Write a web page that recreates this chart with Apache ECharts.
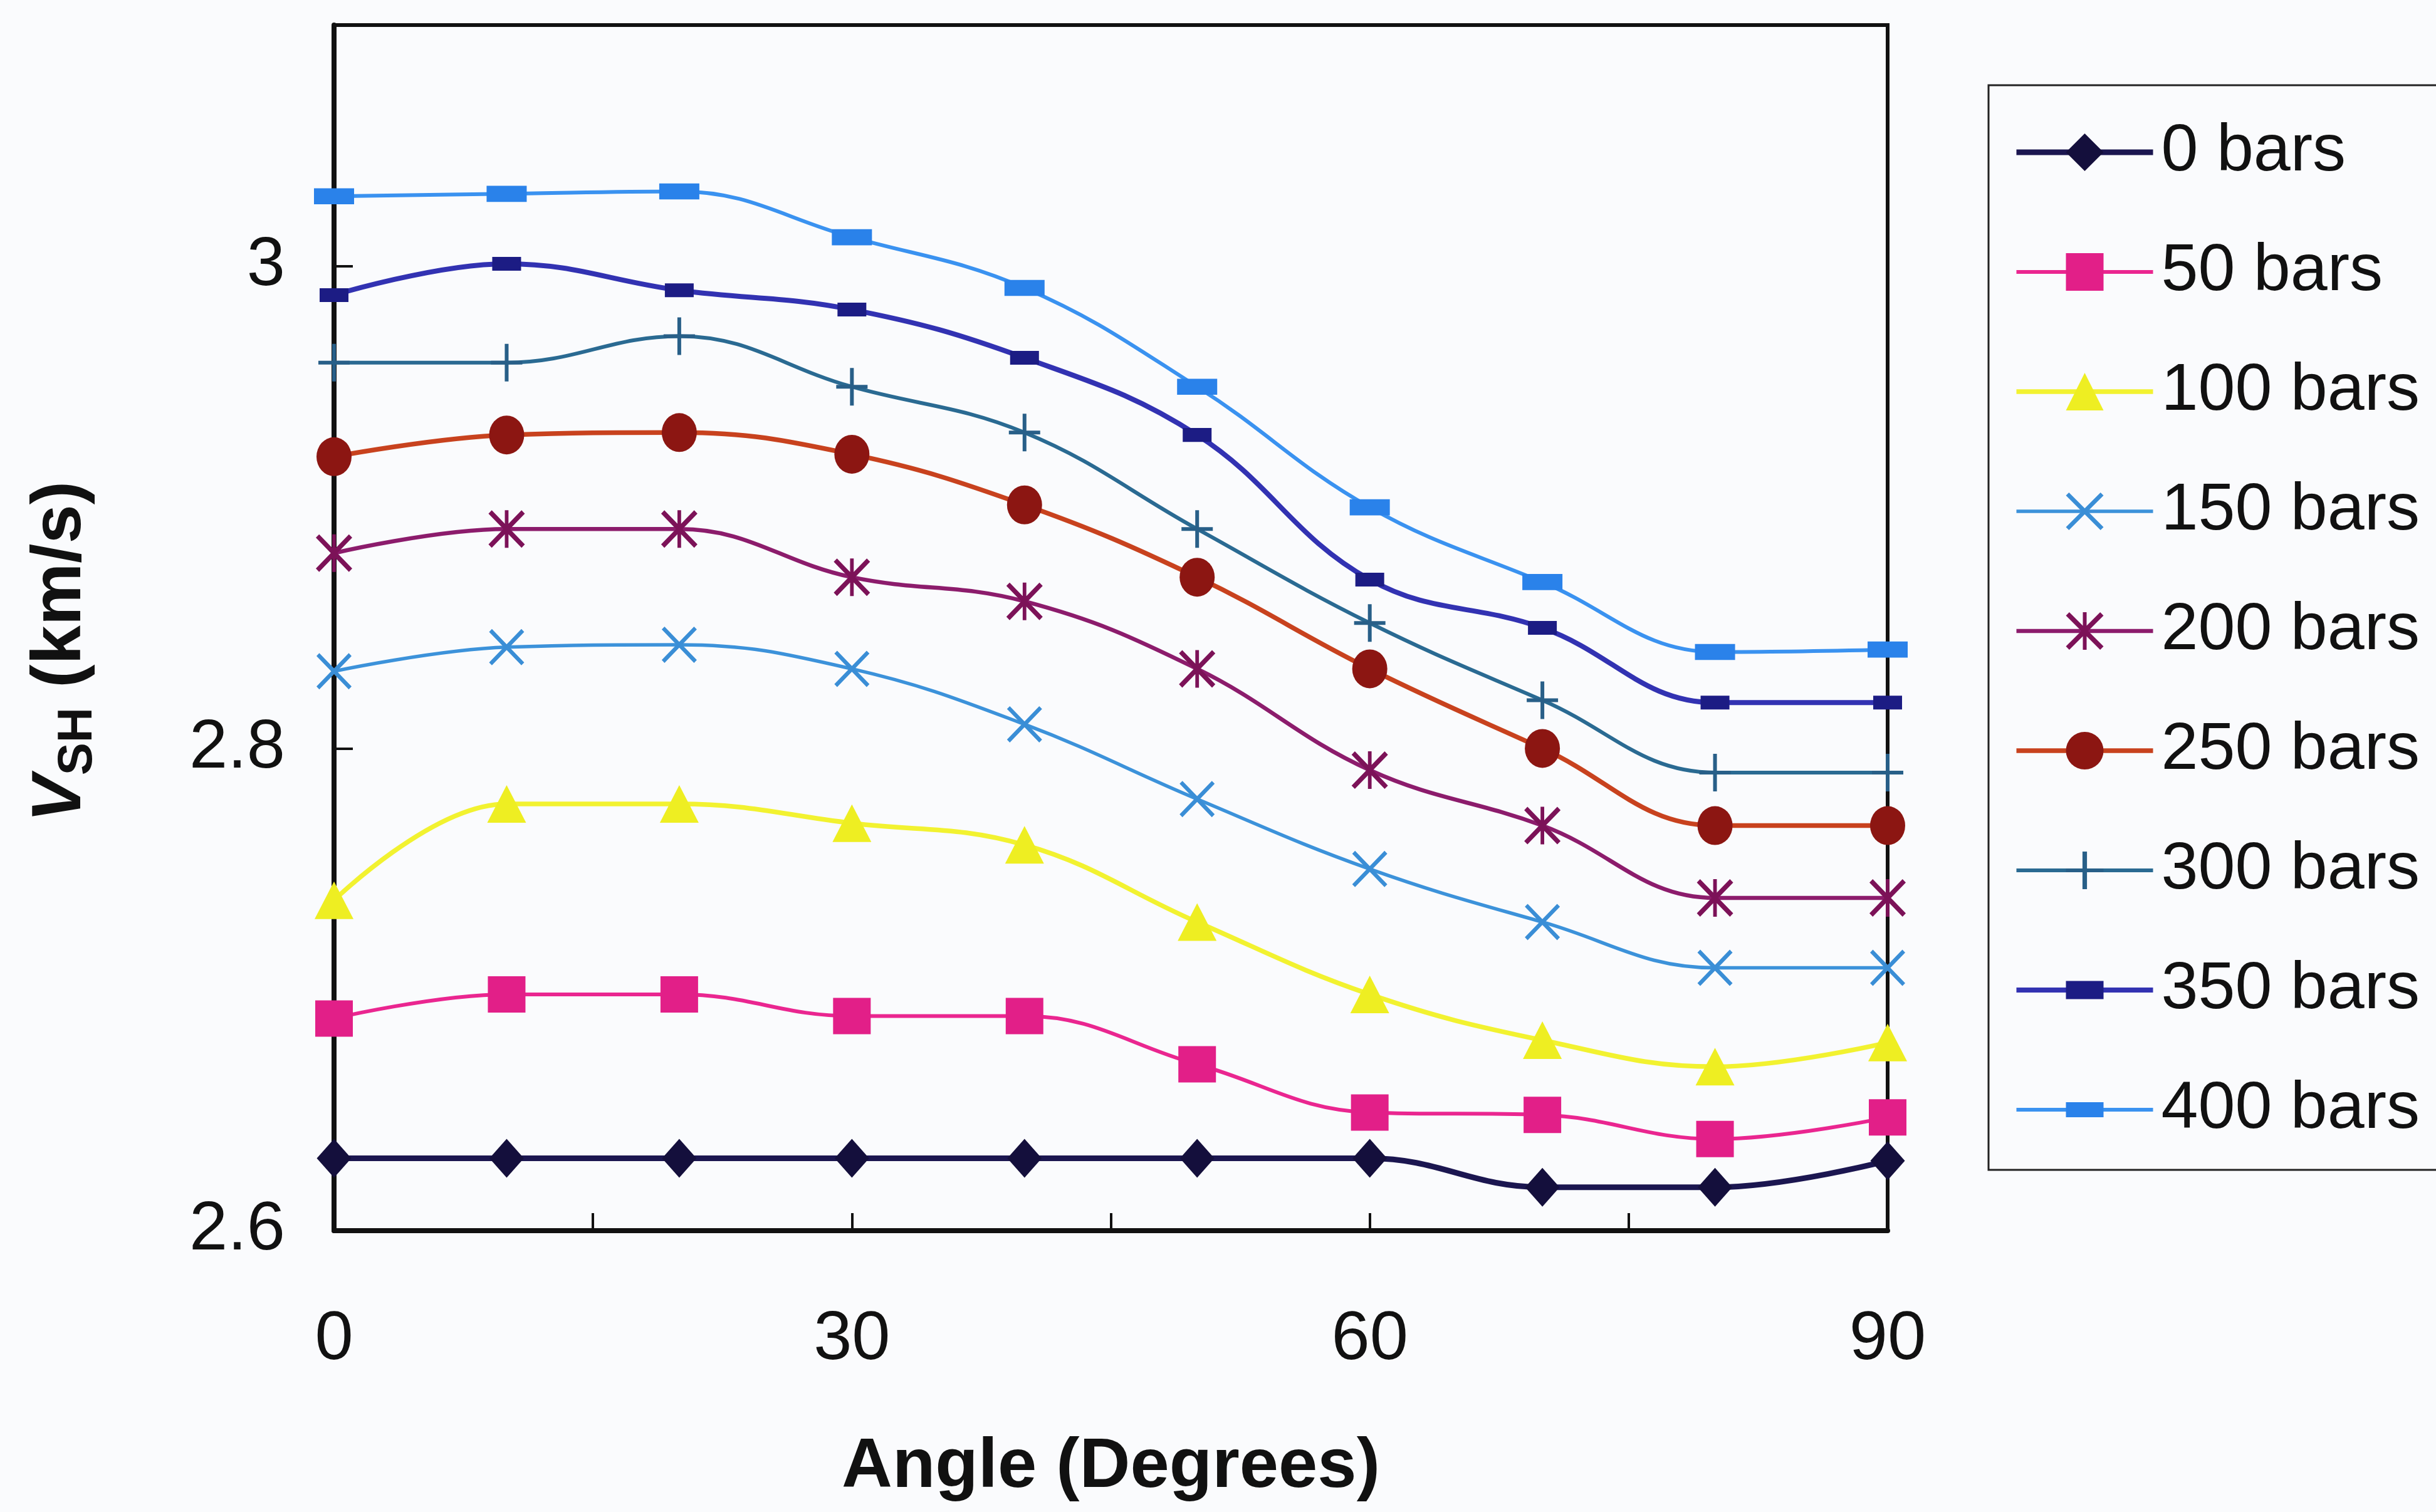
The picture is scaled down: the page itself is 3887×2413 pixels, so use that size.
<!DOCTYPE html>
<html>
<head>
<meta charset="utf-8">
<script src="https://cdn.jsdelivr.net/npm/echarts@6/dist/echarts.min.js"></script>
<style>
html, body { margin: 0; padding: 0; background: #fafbfd; }
#chart { width: 3887px; height: 2413px; }
</style>
</head>
<body>
<div id="chart"></div>
<script>
// angles (degrees) and V_SH (km/s) for each confining pressure
var angles = [0, 10, 20, 30, 40, 50, 60, 70, 80, 90];
var bars0   = [2.630, 2.630, 2.630, 2.630, 2.630, 2.630, 2.630, 2.618, 2.618, 2.629];
var bars50  = [2.688, 2.698, 2.698, 2.689, 2.689, 2.669, 2.649, 2.648, 2.638, 2.647];
var bars100 = [2.737, 2.777, 2.777, 2.769, 2.760, 2.728, 2.698, 2.679, 2.668, 2.678];
var bars150 = [2.832, 2.842, 2.843, 2.833, 2.810, 2.779, 2.750, 2.728, 2.709, 2.709];
var bars200 = [2.881, 2.891, 2.891, 2.871, 2.861, 2.833, 2.791, 2.768, 2.738, 2.738];
var bars250 = [2.921, 2.930, 2.931, 2.922, 2.901, 2.871, 2.833, 2.800, 2.768, 2.768];
var bars300 = [2.960, 2.960, 2.971, 2.950, 2.931, 2.891, 2.852, 2.820, 2.790, 2.790];
var bars350 = [2.988, 3.001, 2.990, 2.982, 2.962, 2.930, 2.870, 2.850, 2.819, 2.819];
var bars400 = [3.029, 3.030, 3.031, 3.012, 2.991, 2.950, 2.900, 2.869, 2.840, 2.841];

var seriesNames = ['0 bars', '50 bars', '100 bars', '150 bars', '200 bars',
                   '250 bars', '300 bars', '350 bars', '400 bars'];
var seriesValues = [bars0, bars50, bars100, bars150, bars200,
                    bars250, bars300, bars350, bars400];

// marker shapes
var xMark = 'path://M0,0.8L0.8,0L10,9.2L9.2,10Z M9.2,0L10,0.8L0.8,10L0,9.2Z';
var starMark = 'path://M0,0.9L0.9,0L10,9.1L9.1,10Z M9.1,0L10,0.9L0.9,10L0,9.1Z M4.5,0L5.5,0L5.5,10L4.5,10Z';
var plusMark = 'path://M4.4,0L5.6,0L5.6,10L4.4,10Z M0,4.5L10,4.5L10,5.5L0,5.5Z';
var dash350 = 'path://M0,0L0.001,0Z M0,2.6L10,2.6L10,7.4L0,7.4Z M0,10L0.001,10Z';
var dash400 = 'path://M0,0L0.001,0Z M0,3L10,3L10,7L0,7Z M0,10L0.001,10Z';

var looks = [
  { line: '#1b1650', mark: '#140f3c', symbol: 'diamond',  size: [55, 62], width: 9 },
  { line: '#ea2690', mark: '#e21f88', symbol: 'rect',     size: [60, 58], width: 6 },
  { line: '#f2f230', mark: '#eeee22', symbol: 'triangle', size: [62, 60], width: 7.5 },
  { line: '#3c92da', mark: '#3a8ed6', symbol: xMark,      size: [56, 58], width: 5.5 },
  { line: '#8c1c6c', mark: '#7c1258', symbol: starMark,   size: [58, 60], width: 6.5 },
  { line: '#c8421e', mark: '#8c1612', symbol: 'circle',   size: [56, 62], width: 7.5 },
  { line: '#2a6a92', mark: '#285f88', symbol: plusMark,   size: [50, 60], width: 6 },
  { line: '#3232b2', mark: '#1c1c84', symbol: dash350,    size: [46, 46], width: 8 },
  { line: '#3a92f0', mark: '#2a82ea', symbol: dash400,    size: [64, 64], width: 6 }
];

var font = '"Liberation Sans", Arial, sans-serif';

var series = seriesNames.map(function (name, k) {
  var lk = looks[k];
  return {
    name: name,
    type: 'line',
    smooth: 0.4,
    symbol: lk.symbol,
    symbolSize: lk.size,
    showAllSymbol: true,
    clip: false,
    lineStyle: { color: lk.line, width: lk.width },
    itemStyle: { color: lk.mark, borderWidth: 0 },
    emphasis: { disabled: true },
    data: angles.map(function (a, i) { return [a, seriesValues[k][i]]; })
  };
});

var chart = echarts.init(document.getElementById('chart'));
var option = {
  backgroundColor: '#fafbfd',
  animation: false,
  grid: {
    left: 533, right: 875, top: 40, bottom: 449,
    show: true, borderColor: '#111', borderWidth: 6, backgroundColor: 'transparent'
  },
  legend: {
    orient: 'vertical',
    left: 3173, top: 136,
    padding: [54, 28, 43, 40],
    itemWidth: 218, itemHeight: 75, itemGap: 85,
    borderColor: '#222', borderWidth: 3,
    lineStyle: { width: 'inherit' },
    textStyle: { fontSize: 106, fontFamily: font, color: '#111', padding: [0, 0, 0, 8] },
    data: seriesNames
  },
  xAxis: {
    type: 'value', min: 0, max: 90, interval: 15,
    name: 'Angle (Degrees)', nameLocation: 'middle', nameGap: 322,
    nameTextStyle: { fontSize: 112, fontWeight: 'bold', fontFamily: font, color: '#111' },
    axisLine: { lineStyle: { color: '#111', width: 8 } },
    axisTick: { inside: true, length: 28, lineStyle: { color: '#111', width: 4 } },
    axisLabel: {
      margin: 120, fontSize: 110, fontFamily: font, color: '#111',
      formatter: function (v) { return v % 30 === 0 ? String(v) : ''; }
    },
    splitLine: { show: false }
  },
  yAxis: {
    type: 'value', min: 2.6, max: 3.1, interval: 0.2,
    name: '{v|V}{s|SH}{n| (km/s)}', nameLocation: 'middle', nameGap: 380, nameRotate: 90,
    nameTextStyle: {
      padding: [0, 76, 0, 0],
      rich: {
        v: { fontSize: 112, fontWeight: 'bold', fontStyle: 'italic', fontFamily: font, color: '#111', lineHeight: 112, verticalAlign: 'top' },
        s: { fontSize: 78, fontWeight: 'bold', fontFamily: font, color: '#111', lineHeight: 112, verticalAlign: 'top', padding: [44, 0, 0, 0] },
        n: { fontSize: 112, fontWeight: 'bold', fontFamily: font, color: '#111', lineHeight: 112, verticalAlign: 'top' }
      }
    },
    axisLine: { lineStyle: { color: '#111', width: 8 } },
    axisTick: { inside: true, length: 30, lineStyle: { color: '#111', width: 4 } },
    axisLabel: { margin: 78, fontSize: 110, fontFamily: font, color: '#111', showMaxLabel: false },
    splitLine: { show: false }
  },
  series: series
};
chart.setOption(option);
</script>
</body>
</html>
